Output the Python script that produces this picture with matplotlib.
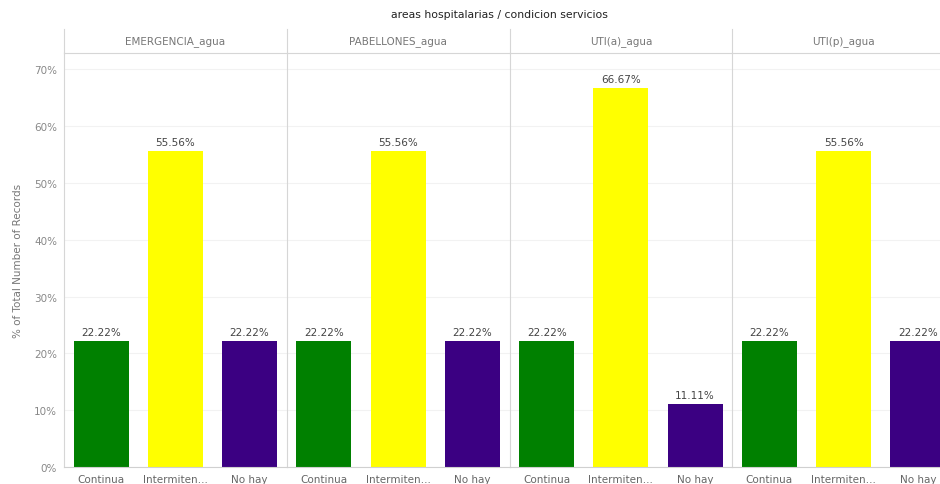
import matplotlib.pyplot as plt
from matplotlib.lines import Line2D

panels = ["EMERGENCIA_agua", "PABELLONES_agua", "UTI(a)_agua", "UTI(p)_agua"]
categories = ["Continua", "Intermiten…", "No hay"]
continua = [22.22, 22.22, 22.22, 22.22]
intermitente = [55.56, 55.56, 66.67, 55.56]
no_hay = [22.22, 22.22, 11.11, 22.22]
colors = ["#008000", "#ffff00", "#3b0082"]
yticks = [0, 10, 20, 30, 40, 50, 60, 70]

plt.rcParams["font.family"] = ["DejaVu Sans"]

W, H = 940, 485
fig = plt.figure(figsize=(W / 100, H / 100), dpi=100)

left_px, right_px = 64, 955
top_px, bottom_px = 54, 468
pw = (right_px - left_px) / 4

for i, name in enumerate(panels):
    x0 = (left_px + i * pw) / W
    ax = fig.add_axes([x0, 1 - bottom_px / H, pw / W, (bottom_px - top_px) / H])
    vals = [continua[i], intermitente[i], no_hay[i]]
    ax.bar(range(3), vals, width=0.74, color=colors, zorder=2)
    for x, v in enumerate(vals):
        ax.text(x, v + 0.7, f"{v:.2f}%", ha="center", va="bottom",
                fontsize=7.5, color="#444444")
    ax.set_xlim(-0.5, 2.5)
    ax.set_ylim(0, 72.9)
    ax.set_yticks(yticks)
    ax.grid(axis="y", color="#f2f2f2", linewidth=0.8, zorder=0)
    ax.set_xticks(range(3))
    ax.set_xticklabels(categories, fontsize=7.5, color="#666666")
    ax.tick_params(length=0, pad=5)
    for s in ["top", "right"]:
        ax.spines[s].set_visible(False)
    ax.spines["bottom"].set_color("#d0d0d0")
    ax.spines["left"].set_color("#d6d6d6")
    ax.spines["left"].set_linewidth(0.8)
    if i == 0:
        ax.set_yticklabels([f"{t}%" for t in yticks], fontsize=7.5, color="#888888")
        ax.set_ylabel("% of Total Number of Records", fontsize=7.5, color="#777777",
                      labelpad=8)
    else:
        ax.set_yticklabels([])
    # panel header
    fig.text((left_px + (i + 0.5) * pw) / W, 1 - 42 / H, name, ha="center",
             va="center", fontsize=7.5, color="#777777")
    # divider up through header
    fig.add_artist(Line2D([x0, x0], [1 - 30 / H, 1 - top_px / H],
                          color="#d6d6d6", linewidth=0.8))

# line under headers
fig.add_artist(Line2D([left_px / W, 1], [1 - top_px / H, 1 - top_px / H],
                      color="#d6d6d6", linewidth=0.8))

fig.text(499 / W, 1 - 15 / H, "areas hospitalarias / condicion servicios",
         ha="center", va="center", fontsize=7.8, color="#222222")

fig.savefig("out.png", dpi=100)
